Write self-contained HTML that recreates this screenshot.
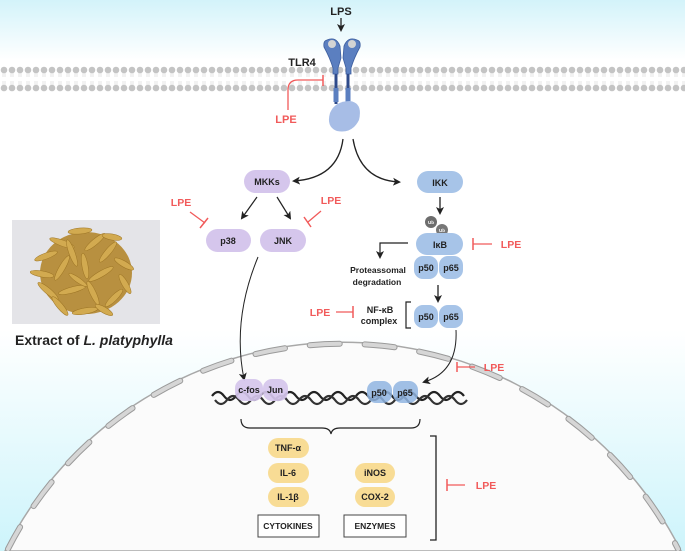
<!DOCTYPE html>
<html><head><meta charset="utf-8"><style>
html,body{margin:0;padding:0;background:#fff;width:685px;height:551px;overflow:hidden}
svg{display:block}
text{font-family:"Liberation Sans",sans-serif;font-weight:bold}
</style></head><body>
<svg width="685" height="551" viewBox="0 0 685 551" xmlns="http://www.w3.org/2000/svg">
<defs>
<linearGradient id="top" x1="0" y1="0" x2="0" y2="1"><stop offset="0" stop-color="#d3f3fa"/><stop offset="1" stop-color="#ffffff"/></linearGradient>
<linearGradient id="bot" x1="0" y1="0" x2="0" y2="1"><stop offset="0" stop-color="#ffffff"/><stop offset="1" stop-color="#cdf4fb"/></linearGradient>
<marker id="ar" markerWidth="8" markerHeight="8" refX="6" refY="4" orient="auto" markerUnits="userSpaceOnUse"><path d="M0,0 L8,4 L0,8 L2,4 Z" fill="#222"/></marker>
<pattern id="lip" x="0" y="66" width="8" height="26" patternUnits="userSpaceOnUse">
<circle cx="4" cy="4" r="3.3" fill="#c4c4c4"/><circle cx="4" cy="22" r="3.3" fill="#c4c4c4"/>
<path d="M3,7 L3,11 M5,7 L5,11 M3,15 L3,19 M5,15 L5,19" stroke="#d4d4d4" stroke-width="0.6"/>
</pattern>
</defs>
<rect width="685" height="551" fill="#fff"/>
<rect width="685" height="60" fill="url(#top)"/>
<rect y="330" width="685" height="221" fill="url(#bot)"/>
<rect x="0" y="66" width="685" height="26" fill="url(#lip)"/>
<!-- nucleus -->
<path d="M5,551 A378,378 0 0 1 681,551 Z" fill="#fbfbfb" stroke="#a8a8a8" stroke-width="1.5"/>
<path d="M8,549 A376,376 0 0 1 678,549" fill="none" stroke="#9a9a9a" stroke-width="6" stroke-linecap="round" stroke-dasharray="30 25" stroke-dashoffset="5"/>
<path d="M8,549 A376,376 0 0 1 678,549" fill="none" stroke="#d6d6d6" stroke-width="4" stroke-linecap="round" stroke-dasharray="30 25" stroke-dashoffset="5"/>
<!-- LPS / TLR4 -->
<text x="341" y="15" font-size="11" text-anchor="middle" fill="#222">LPS</text>
<line x1="341" y1="18" x2="341" y2="30" stroke="#222" stroke-width="1.3" marker-end="url(#ar)"/>
<text x="302" y="66" font-size="11" text-anchor="middle" fill="#222">TLR4</text>
<path d="M327,40 Q336,36 340,46 L341,58 L338,68 L338,74 L333,74 L333,68 Q330,58 324,47 Q323,41 327,40Z" fill="#5b7fc0" stroke="#3d5e9e" stroke-width="0.8"/>
<path d="M357,40 Q348,36 344,46 L343,58 L346,68 L346,74 L351,74 L351,68 Q354,58 360,47 Q361,41 357,40Z" fill="#5b7fc0" stroke="#3d5e9e" stroke-width="0.8"/>
<circle cx="332" cy="44" r="4" fill="#d4d4d4"/><circle cx="352" cy="44" r="4" fill="#d4d4d4"/>
<rect x="334.5" y="74" width="3" height="30" fill="#2e4a8a"/><rect x="346.5" y="74" width="3" height="30" fill="#2e4a8a"/>
<rect x="333.5" y="88" width="5" height="14" fill="#5b7fc0"/><rect x="345.5" y="88" width="5" height="14" fill="#5b7fc0"/>
<path d="M330,113 Q335,101 350,101 Q363,103 359,120 Q352,134 337,131 Q326,127 330,113Z" fill="#a7bde6"/>
<path d="M288,110 L288,90 Q288,80 298,80 L323,80" fill="none" stroke="#f15a5a" stroke-width="1.3"/>
<line x1="323" y1="75" x2="323" y2="86" stroke="#f15a5a" stroke-width="1.5"/>
<text x="286" y="123" font-size="11" text-anchor="middle" fill="#f15a5a">LPE</text>
<path d="M343,139 Q338,178 294,181" fill="none" stroke="#222" stroke-width="1.3" marker-end="url(#ar)"/>
<path d="M353,139 Q360,180 399,182" fill="none" stroke="#222" stroke-width="1.3" marker-end="url(#ar)"/>
<!-- MAPK -->
<rect x="244" y="170" width="46" height="23" rx="11.5" fill="#d5c6ec"/>
<text x="267" y="185" font-size="9" text-anchor="middle" fill="#222">MKKs</text>
<line x1="257" y1="197" x2="242" y2="218" stroke="#222" stroke-width="1.2" marker-end="url(#ar)"/>
<line x1="277" y1="197" x2="290" y2="218" stroke="#222" stroke-width="1.2" marker-end="url(#ar)"/>
<rect x="206" y="229" width="45" height="23" rx="11.5" fill="#d5c6ec"/>
<text x="228" y="244" font-size="9" text-anchor="middle" fill="#222">p38</text>
<rect x="260" y="229" width="46" height="23" rx="11.5" fill="#d5c6ec"/>
<text x="283" y="244" font-size="9" text-anchor="middle" fill="#222">JNK</text>
<text x="181" y="206" font-size="10.5" text-anchor="middle" fill="#f15a5a">LPE</text>
<line x1="190" y1="212" x2="205" y2="223" stroke="#f15a5a" stroke-width="1.3"/>
<line x1="200" y1="228" x2="208" y2="218" stroke="#f15a5a" stroke-width="1.5"/>
<text x="331" y="204" font-size="10.5" text-anchor="middle" fill="#f15a5a">LPE</text>
<line x1="321" y1="211" x2="308" y2="222" stroke="#f15a5a" stroke-width="1.3"/>
<line x1="304" y1="217" x2="311" y2="227" stroke="#f15a5a" stroke-width="1.5"/>
<!-- NF-kB -->
<rect x="417" y="171" width="46" height="22" rx="11" fill="#a7c4e8"/>
<text x="440" y="186" font-size="9" text-anchor="middle" fill="#222">IKK</text>
<line x1="440" y1="197" x2="440" y2="213" stroke="#222" stroke-width="1.3" marker-end="url(#ar)"/>
<circle cx="431" cy="222" r="6" fill="#6d6d6d"/><circle cx="442" cy="230" r="6" fill="#777"/>
<text x="431" y="224" font-size="4.5" text-anchor="middle" fill="#fff">Ub</text>
<text x="442" y="232" font-size="4.5" text-anchor="middle" fill="#fff">Ub</text>
<rect x="416" y="233" width="47" height="22" rx="11" fill="#a7c4e8"/>
<text x="440" y="248" font-size="9" text-anchor="middle" fill="#222">IκB</text>
<rect x="414" y="256" width="24" height="23" rx="9" fill="#a7c4e8"/>
<rect x="439" y="256" width="24" height="23" rx="9" fill="#a7c4e8"/>
<text x="426" y="271" font-size="9" text-anchor="middle" fill="#222">p50</text>
<text x="451" y="271" font-size="9" text-anchor="middle" fill="#222">p65</text>
<line x1="473" y1="238" x2="473" y2="250" stroke="#f15a5a" stroke-width="1.5"/>
<line x1="473" y1="244" x2="492" y2="244" stroke="#f15a5a" stroke-width="1.3"/>
<text x="511" y="248" font-size="10.5" text-anchor="middle" fill="#f15a5a">LPE</text>
<path d="M408,243 L380,243 L380,257" fill="none" stroke="#222" stroke-width="1.2" marker-end="url(#ar)"/>
<text x="378" y="273" font-size="8.5" text-anchor="middle" fill="#222">Proteassomal</text>
<text x="377" y="285" font-size="8.5" text-anchor="middle" fill="#222">degradation</text>
<line x1="438" y1="285" x2="438" y2="301" stroke="#222" stroke-width="1.3" marker-end="url(#ar)"/>
<rect x="414" y="305" width="24" height="23" rx="9" fill="#a7c4e8"/>
<rect x="439" y="305" width="24" height="23" rx="9" fill="#a7c4e8"/>
<text x="426" y="320" font-size="9" text-anchor="middle" fill="#222">p50</text>
<text x="451" y="320" font-size="9" text-anchor="middle" fill="#222">p65</text>
<path d="M411,302 L406,302 L406,328 L411,328" fill="none" stroke="#222" stroke-width="1.2"/>
<text x="380" y="313" font-size="9" text-anchor="middle" fill="#222">NF-κB</text>
<text x="379" y="324" font-size="9" text-anchor="middle" fill="#222">complex</text>
<text x="320" y="316" font-size="10.5" text-anchor="middle" fill="#f15a5a">LPE</text>
<line x1="336" y1="312" x2="353" y2="312" stroke="#f15a5a" stroke-width="1.3"/>
<line x1="353" y1="306" x2="353" y2="318" stroke="#f15a5a" stroke-width="1.5"/>
<!-- photo -->
<rect x="12" y="220" width="148" height="104" fill="#e4e4e8"/>
<g fill="#d2aa50" stroke="#9c7424" stroke-width="0.5">
<ellipse cx="86" cy="273" rx="46" ry="41" fill="#b89040" stroke="none"/>
<ellipse cx="80" cy="231" rx="12" ry="3" transform="rotate(-5 80 231)"/>
<ellipse cx="62" cy="243" rx="13" ry="3" transform="rotate(20 62 243)"/>
<ellipse cx="95" cy="242" rx="13" ry="3" transform="rotate(-40 95 242)"/>
<ellipse cx="46" cy="256" rx="12" ry="3" transform="rotate(-20 46 256)"/>
<ellipse cx="72" cy="253" rx="14" ry="3" transform="rotate(70 72 253)"/>
<ellipse cx="108" cy="252" rx="13" ry="3" transform="rotate(-50 108 252)"/>
<ellipse cx="124" cy="264" rx="11" ry="3" transform="rotate(30 124 264)"/>
<ellipse cx="42" cy="274" rx="12" ry="3" transform="rotate(10 42 274)"/>
<ellipse cx="62" cy="268" rx="14" ry="3" transform="rotate(-60 62 268)"/>
<ellipse cx="85" cy="266" rx="13" ry="3" transform="rotate(80 85 266)"/>
<ellipse cx="101" cy="274" rx="14" ry="3" transform="rotate(-30 101 274)"/>
<ellipse cx="125" cy="284" rx="11" ry="3" transform="rotate(60 125 284)"/>
<ellipse cx="48" cy="291" rx="13" ry="3" transform="rotate(40 48 291)"/>
<ellipse cx="72" cy="290" rx="14" ry="3" transform="rotate(-15 72 290)"/>
<ellipse cx="93" cy="293" rx="13" ry="3" transform="rotate(65 93 293)"/>
<ellipse cx="114" cy="298" rx="12" ry="3" transform="rotate(-45 114 298)"/>
<ellipse cx="60" cy="306" rx="12" ry="3" transform="rotate(50 60 306)"/>
<ellipse cx="85" cy="311" rx="13" ry="3" transform="rotate(-10 85 311)"/>
<ellipse cx="104" cy="310" rx="10" ry="3" transform="rotate(30 104 310)"/>
<ellipse cx="78" cy="280" rx="11" ry="2.5" transform="rotate(35 78 280)"/>
<ellipse cx="112" cy="237" rx="10" ry="3" transform="rotate(10 112 237)"/>
</g>
<text x="15" y="345" font-size="14" fill="#222">Extract of <tspan font-style="italic">L. platyphylla</tspan></text>
<path d="M258,257 Q232,320 244,379" fill="none" stroke="#222" stroke-width="1" marker-end="url(#ar)"/>
<path d="M456,330 Q458,372 424,382" fill="none" stroke="#222" stroke-width="1" marker-end="url(#ar)"/>
<line x1="457" y1="362" x2="457" y2="372" stroke="#f15a5a" stroke-width="1.5"/>
<line x1="457" y1="367" x2="475" y2="367" stroke="#f15a5a" stroke-width="1.3"/>
<text x="494" y="371" font-size="10.5" text-anchor="middle" fill="#f15a5a">LPE</text>
<!-- DNA -->
<path d="M212,398 Q218,390 224,398 T236,398 T248,398 T260,398 T272,398 T284,398 T296,398 T308,398 T320,398 T332,398 T344,398 T356,398 T368,398 T380,398 T392,398 T404,398 T416,398 T428,398 T440,398 T452,398 T464,398" fill="none" stroke="#222" stroke-width="2.2" transform="translate(0,-2)"/>
<path d="M212,398 Q218,406 224,398 T236,398 T248,398 T260,398 T272,398 T284,398 T296,398 T308,398 T320,398 T332,398 T344,398 T356,398 T368,398 T380,398 T392,398 T404,398 T416,398 T428,398 T440,398 T452,398 T464,398" fill="none" stroke="#333" stroke-width="2.2" transform="translate(3,2)"/>
<rect x="235" y="379" width="28" height="22" rx="9" fill="#d5c6ec" opacity="0.92"/>
<rect x="263" y="379" width="25" height="22" rx="9" fill="#d5c6ec" opacity="0.92"/>
<text x="249" y="393" font-size="9" text-anchor="middle" fill="#222">c-fos</text>
<text x="275" y="393" font-size="9" text-anchor="middle" fill="#222">Jun</text>
<rect x="367" y="381" width="25" height="22" rx="9" fill="#8fb4e0" opacity="0.85"/>
<rect x="393" y="381" width="25" height="22" rx="9" fill="#8fb4e0" opacity="0.85"/>
<text x="379" y="396" font-size="9" text-anchor="middle" fill="#222">p50</text>
<text x="405" y="396" font-size="9" text-anchor="middle" fill="#222">p65</text>
<path d="M241,419 Q241,428 250,428 L322,428 Q330,428 331,434 Q332,428 340,428 L411,428 Q420,428 420,419" fill="none" stroke="#222" stroke-width="1.2"/>
<g fill="#f8dc95">
<rect x="268" y="438" width="41" height="20" rx="10"/>
<rect x="268" y="463" width="41" height="20" rx="10"/>
<rect x="268" y="487" width="41" height="20" rx="10"/>
<rect x="355" y="463" width="40" height="20" rx="10"/>
<rect x="355" y="487" width="40" height="20" rx="10"/>
</g>
<g font-size="9" text-anchor="middle" fill="#222">
<text x="288" y="451">TNF-α</text>
<text x="288" y="476">IL-6</text>
<text x="288" y="500">IL-1β</text>
<text x="375" y="476">iNOS</text>
<text x="375" y="500">COX-2</text>
</g>
<rect x="258" y="515" width="61" height="22" fill="#fff" stroke="#444" stroke-width="1"/>
<rect x="344" y="515" width="62" height="22" fill="#fff" stroke="#444" stroke-width="1"/>
<text x="288" y="529" font-size="8.5" text-anchor="middle" fill="#222">CYTOKINES</text>
<text x="375" y="529" font-size="8.5" text-anchor="middle" fill="#222">ENZYMES</text>
<path d="M430,436 L436,436 L436,540 L430,540" fill="none" stroke="#222" stroke-width="1.3"/>
<line x1="447" y1="479" x2="447" y2="491" stroke="#f15a5a" stroke-width="1.5"/>
<line x1="447" y1="485" x2="465" y2="485" stroke="#f15a5a" stroke-width="1.3"/>
<text x="486" y="489" font-size="10.5" text-anchor="middle" fill="#f15a5a">LPE</text>
</svg>
</body></html>
